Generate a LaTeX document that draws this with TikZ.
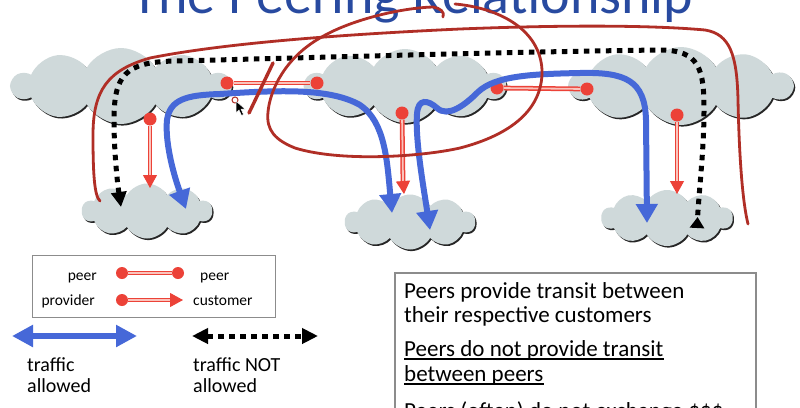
\documentclass[tikz,border=0pt]{standalone}
\usepackage{fontspec}
\setmainfont{Carlito}
\usetikzlibrary{shapes.symbols,arrows.meta}

\definecolor{cloudfill}{RGB}{207,217,218}
\definecolor{peerred}{RGB}{236,66,56}
\definecolor{peerpink}{RGB}{250,196,188}
\definecolor{trafficblue}{RGB}{70,104,216}
\definecolor{inkred}{RGB}{176,46,38}
\definecolor{titleblue}{RGB}{40,74,160}
\definecolor{boxgray}{RGB}{140,140,140}

\tikzset{
  netcloud/.style={cloud, cloud puffs=10, cloud puff arc=120, cloud ignores aspect, inner sep=0pt, draw=none},
  cloudshadow/.style={netcloud, fill=black!85},
  cloudbody/.style={netcloud, fill=cloudfill},
  peerdot/.style={circle, fill=peerred, inner sep=0pt, minimum size=13pt},
  legdot/.style={circle, fill=peerred, inner sep=0pt, minimum size=12pt},
  peerlink/.style={draw=peerred, line width=1.5pt, double=peerpink, double distance=1.8pt},
  provtip/.style={draw=peerred, line width=1pt, -{Triangle[length=13pt,width=14pt]}},
  trafficok/.style={draw=trafficblue, line width=6pt,
    {Triangle[length=19pt,width=21pt]}-{Triangle[length=19pt,width=21pt]}},
  blocked/.style={draw=black, line width=5pt, dash pattern=on 5.5pt off 5.5pt},
  ink/.style={draw=inkred, line width=2.8pt, line cap=round, line join=round},
  smalllbl/.style={inner sep=0pt, font=\fontsize{15.5}{18}\selectfont},
  midlbl/.style={inner sep=0pt, font=\fontsize{20}{22}\selectfont, anchor=base west},
  boxlbl/.style={inner sep=0pt, font=\fontsize{23}{26}\selectfont, anchor=base west},
}

\begin{document}
\begin{tikzpicture}[x=1pt,y=-1pt]
\useasboundingbox (0,0) rectangle (800,407);
\clip (0,0) rectangle (800,407);
\fill[white] (0,0) rectangle (800,407);

% heading
\node[anchor=base west, inner sep=0pt, text=titleblue, font=\fontsize{56}{62}\selectfont]
  (title) at (131,13) {The Peering Relationship};

% networks: three peers on top, one customer below each
\node[cloudshadow, minimum width=218pt, minimum height=76pt] (ispA-sh) at (122.3,87.6) {};
\node[cloudbody,   minimum width=218pt, minimum height=76pt] (ispA) at (121,86) {};
\node[cloudshadow, minimum width=200pt, minimum height=74pt] (ispB-sh) at (406.3,87.6) {};
\node[cloudbody,   minimum width=200pt, minimum height=74pt] (ispB) at (405,86) {};
\node[cloudshadow, minimum width=222pt, minimum height=78pt] (ispC-sh) at (682.3,87.6) {};
\node[cloudbody,   minimum width=222pt, minimum height=78pt] (ispC) at (681,86) {};
\node[cloudshadow, minimum width=130pt, minimum height=55pt] (custA-sh) at (148.3,212.6) {};
\node[cloudbody,   minimum width=130pt, minimum height=55pt] (custA) at (147,211) {};
\node[cloudshadow, minimum width=130pt, minimum height=55pt] (custB-sh) at (411.3,223.6) {};
\node[cloudbody,   minimum width=130pt, minimum height=55pt] (custB) at (410,222) {};
\node[cloudshadow, minimum width=131pt, minimum height=56pt] (custC-sh) at (668.3,219.6) {};
\node[cloudbody,   minimum width=131pt, minimum height=56pt] (custC) at (667,218) {};

% peer links
\node[peerdot] (pAB1) at (227,83) {};
\node[peerdot] (pAB2) at (317,83) {};
\draw[peerlink] (pAB1) -- (pAB2);
\node[peerdot] (pBC1) at (497,88) {};
\node[peerdot] (pBC2) at (587,89) {};
\draw[peerlink] (pBC1) -- (pBC2);

% provider -> customer links
\node[peerdot] (provA) at (150,119) {};
\coordinate (custAm) at (150,175);
\coordinate (custAt) at (150,188);
\draw[peerlink] (provA) -- (custAm);
\draw[provtip] (custAm) -- (custAt);

\node[peerdot] (provB) at (402,113) {};
\coordinate (custBm) at (403,181);
\coordinate (custBt) at (404,194);
\draw[peerlink] (provB) -- (custBm);
\draw[provtip] (custBm) -- (custBt);

\node[peerdot] (provC) at (677,115) {};
\coordinate (custCm) at (677,181);
\coordinate (custCt) at (677,194);
\draw[peerlink] (provC) -- (custCm);
\draw[provtip] (custCm) -- (custCt);

% permitted traffic between customers of peers
\coordinate (ta1) at (186,209);
\coordinate (ta2) at (392,213);
\draw[trafficok] (ta1) .. controls (172,170) and (165,140) .. (167,120)
  .. controls (170,100) and (185,95) .. (220,94)
  .. controls (280,90) and (330,88) .. (360,105)
  .. controls (385,122) and (387,160) .. (ta2);

\coordinate (tb1) at (430,230);
\coordinate (tb2) at (647,223);
\draw[trafficok] (tb1) .. controls (424,190) and (415,140) .. (417,114)
  .. controls (418,98) and (428,100) .. (437,108)
  .. controls (448,118) and (465,105) .. (478,92)
  .. controls (495,76) and (530,74) .. (580,73)
  .. controls (625,72) and (645,80) .. (646,120) -- (tb2);

% traffic that is not carried between peers
\coordinate (na1) at (121,207);
\coordinate (na2) at (697,228);
\draw[blocked, {Triangle[length=15pt,width=15pt]}-{Triangle[reversed,length=11pt,width=14pt]}]
  (na1) .. controls (117,180) and (114,150) .. (114,120)
  .. controls (114,75) and (125,62) .. (175,61)
  .. controls (300,58) and (500,52) .. (660,50)
  .. controls (700,50) and (704,70) .. (704,110)
  .. controls (704,150) and (699,190) .. (na2);

% hand-drawn marks
\coordinate (inkA1) at (100,201);
\coordinate (inkA2) at (748,224);
\draw[ink] (inkA1) .. controls (94,196) and (93,170) .. (93,135)
  .. controls (93,90) and (108,70) .. (150,58)
  .. controls (220,44) and (330,35) .. (460,29)
  .. controls (560,25) and (650,25) .. (705,30)
  .. controls (730,34) and (737,55) .. (738,100)
  .. controls (739,150) and (742,200) .. (inkA2);

\coordinate (loop1) at (455,4);
\coordinate (loop2) at (443,17);
\draw[ink] (loop1) .. controls (500,8) and (540,30) .. (542,70)
  .. controls (543,110) and (510,135) .. (460,148)
  .. controls (420,157) and (340,162) .. (295,148)
  .. controls (275,140) and (266,130) .. (268,112)
  .. controls (270,90) and (285,58) .. (320,38)
  .. controls (350,20) and (400,8) .. (433,7)
  .. controls (440,8) and (445,12) .. (loop2);

\coordinate (cut1) at (273,63);
\coordinate (cut2) at (249,113);
\draw[ink, line width=3.4pt] (cut1) -- (cut2);

% pointer
\draw[inkred, line width=1pt] (235,100) circle (3);
\filldraw[fill=black, draw=white, line width=0.5pt]
  (236,101) -- (236,113) -- (239,110) -- (241.5,115.5) -- (243.5,114.5) -- (241,109) -- (245,109) -- cycle;

% legend
\node[draw=boxgray, line width=1pt, minimum width=243pt, minimum height=62pt, inner sep=0pt]
  (legend) at (153.5,286) {};
\node[smalllbl, anchor=base east] (lp1) at (97,280) {peer};
\node[legdot] (ld1) at (122,273) {};
\node[legdot] (ld2) at (178,273) {};
\draw[peerlink] (ld1) -- (ld2);
\node[smalllbl, anchor=base west] (lp2) at (200,280) {peer};
\node[smalllbl, anchor=base east] (lpr) at (95,305) {provider};
\node[legdot] (ld3) at (122,300) {};
\coordinate (ld4m) at (170,300);
\coordinate (ld4) at (183,300);
\draw[peerlink] (ld3) -- (ld4m);
\draw[provtip] (ld4m) -- (ld4);
\node[smalllbl, anchor=base west] (lcu) at (193,305) {customer};

\coordinate (lb1) at (12,336);
\coordinate (lb2) at (137,336);
\draw[draw=trafficblue, line width=6pt,
  {Triangle[length=21pt,width=21pt]}-{Triangle[length=21pt,width=21pt]}] (lb1) -- (lb2);
\coordinate (lk1) at (192,336);
\coordinate (lk2) at (318,336);
\draw[blocked, {Triangle[length=16pt,width=15pt]}-{Triangle[length=16pt,width=15pt]}] (lk1) -- (lk2);

\node[midlbl] (ok1) at (27,371) {traffic};
\node[midlbl] (ok2) at (27,392) {allowed};
\node[midlbl] (no1) at (193,371) {traffic NOT};
\node[midlbl] (no2) at (193,392) {allowed};

% rules box
\draw[boxgray, line width=1.2pt] (395,440) -- (395,273) -- (756,273) -- (756,440);
\node[boxlbl] (r1) at (404,298) {Peers provide transit between};
\node[boxlbl] (r2) at (404,322) {their respective customers};
\node[boxlbl] (r3) at (404,356) {Peers do not provide transit};
\draw[line width=1.3pt] ([yshift=-3pt]r3.base west) -- ([yshift=-3pt]r3.base east);
\node[boxlbl] (r4) at (404,381) {between peers};
\draw[line width=1.3pt] ([yshift=-3pt]r4.base west) -- ([yshift=-3pt]r4.base east);
\node[boxlbl] (r5) at (404,418) {Peers (often) do not exchange \$\$\$};
\end{tikzpicture}
\end{document}
